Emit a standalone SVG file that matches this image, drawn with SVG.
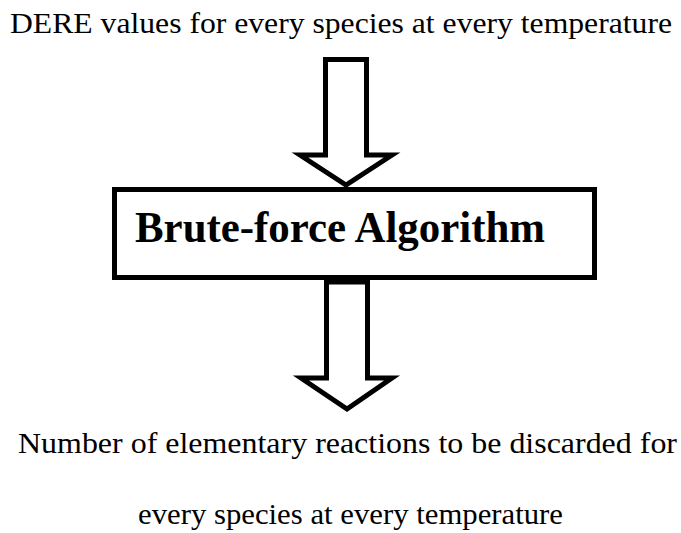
<svg xmlns="http://www.w3.org/2000/svg" width="681" height="533" viewBox="0 0 681 533">
<style>
.t{font-family:"Liberation Serif","Times New Roman",serif;font-size:29px;fill:#000}
.b{font-family:"Liberation Serif","Times New Roman",serif;font-size:44px;font-weight:bold;fill:#000}
.s{fill:#fff;stroke:#000;stroke-width:5;stroke-linejoin:miter}
</style>
<rect width="681" height="533" fill="#fff"/>
<g id="input"><text class="t" x="10" y="33" textLength="662" lengthAdjust="spacingAndGlyphs">DERE values for every species at every temperature</text></g>
<g id="connectors">
<polygon class="s" points="325.5,59.5 366.5,59.5 366.5,155 392,155 346,185 300,155 325.5,155"/>
<polygon class="s" points="326.5,282 367.5,282 367.5,378 392,378 347,409 301,378 326.5,378"/>
</g>
<g id="algorithm">
<rect class="s" x="114.5" y="189.5" width="480" height="88"/>
<text class="b" x="135" y="242" textLength="410" lengthAdjust="spacingAndGlyphs">Brute-force Algorithm</text>
</g>
<g id="output">
<text class="t" x="18" y="453" textLength="659" lengthAdjust="spacingAndGlyphs">Number of elementary reactions to be discarded for</text>
<text class="t" x="138" y="524" textLength="425" lengthAdjust="spacingAndGlyphs">every species at every temperature</text>
</g>
</svg>
